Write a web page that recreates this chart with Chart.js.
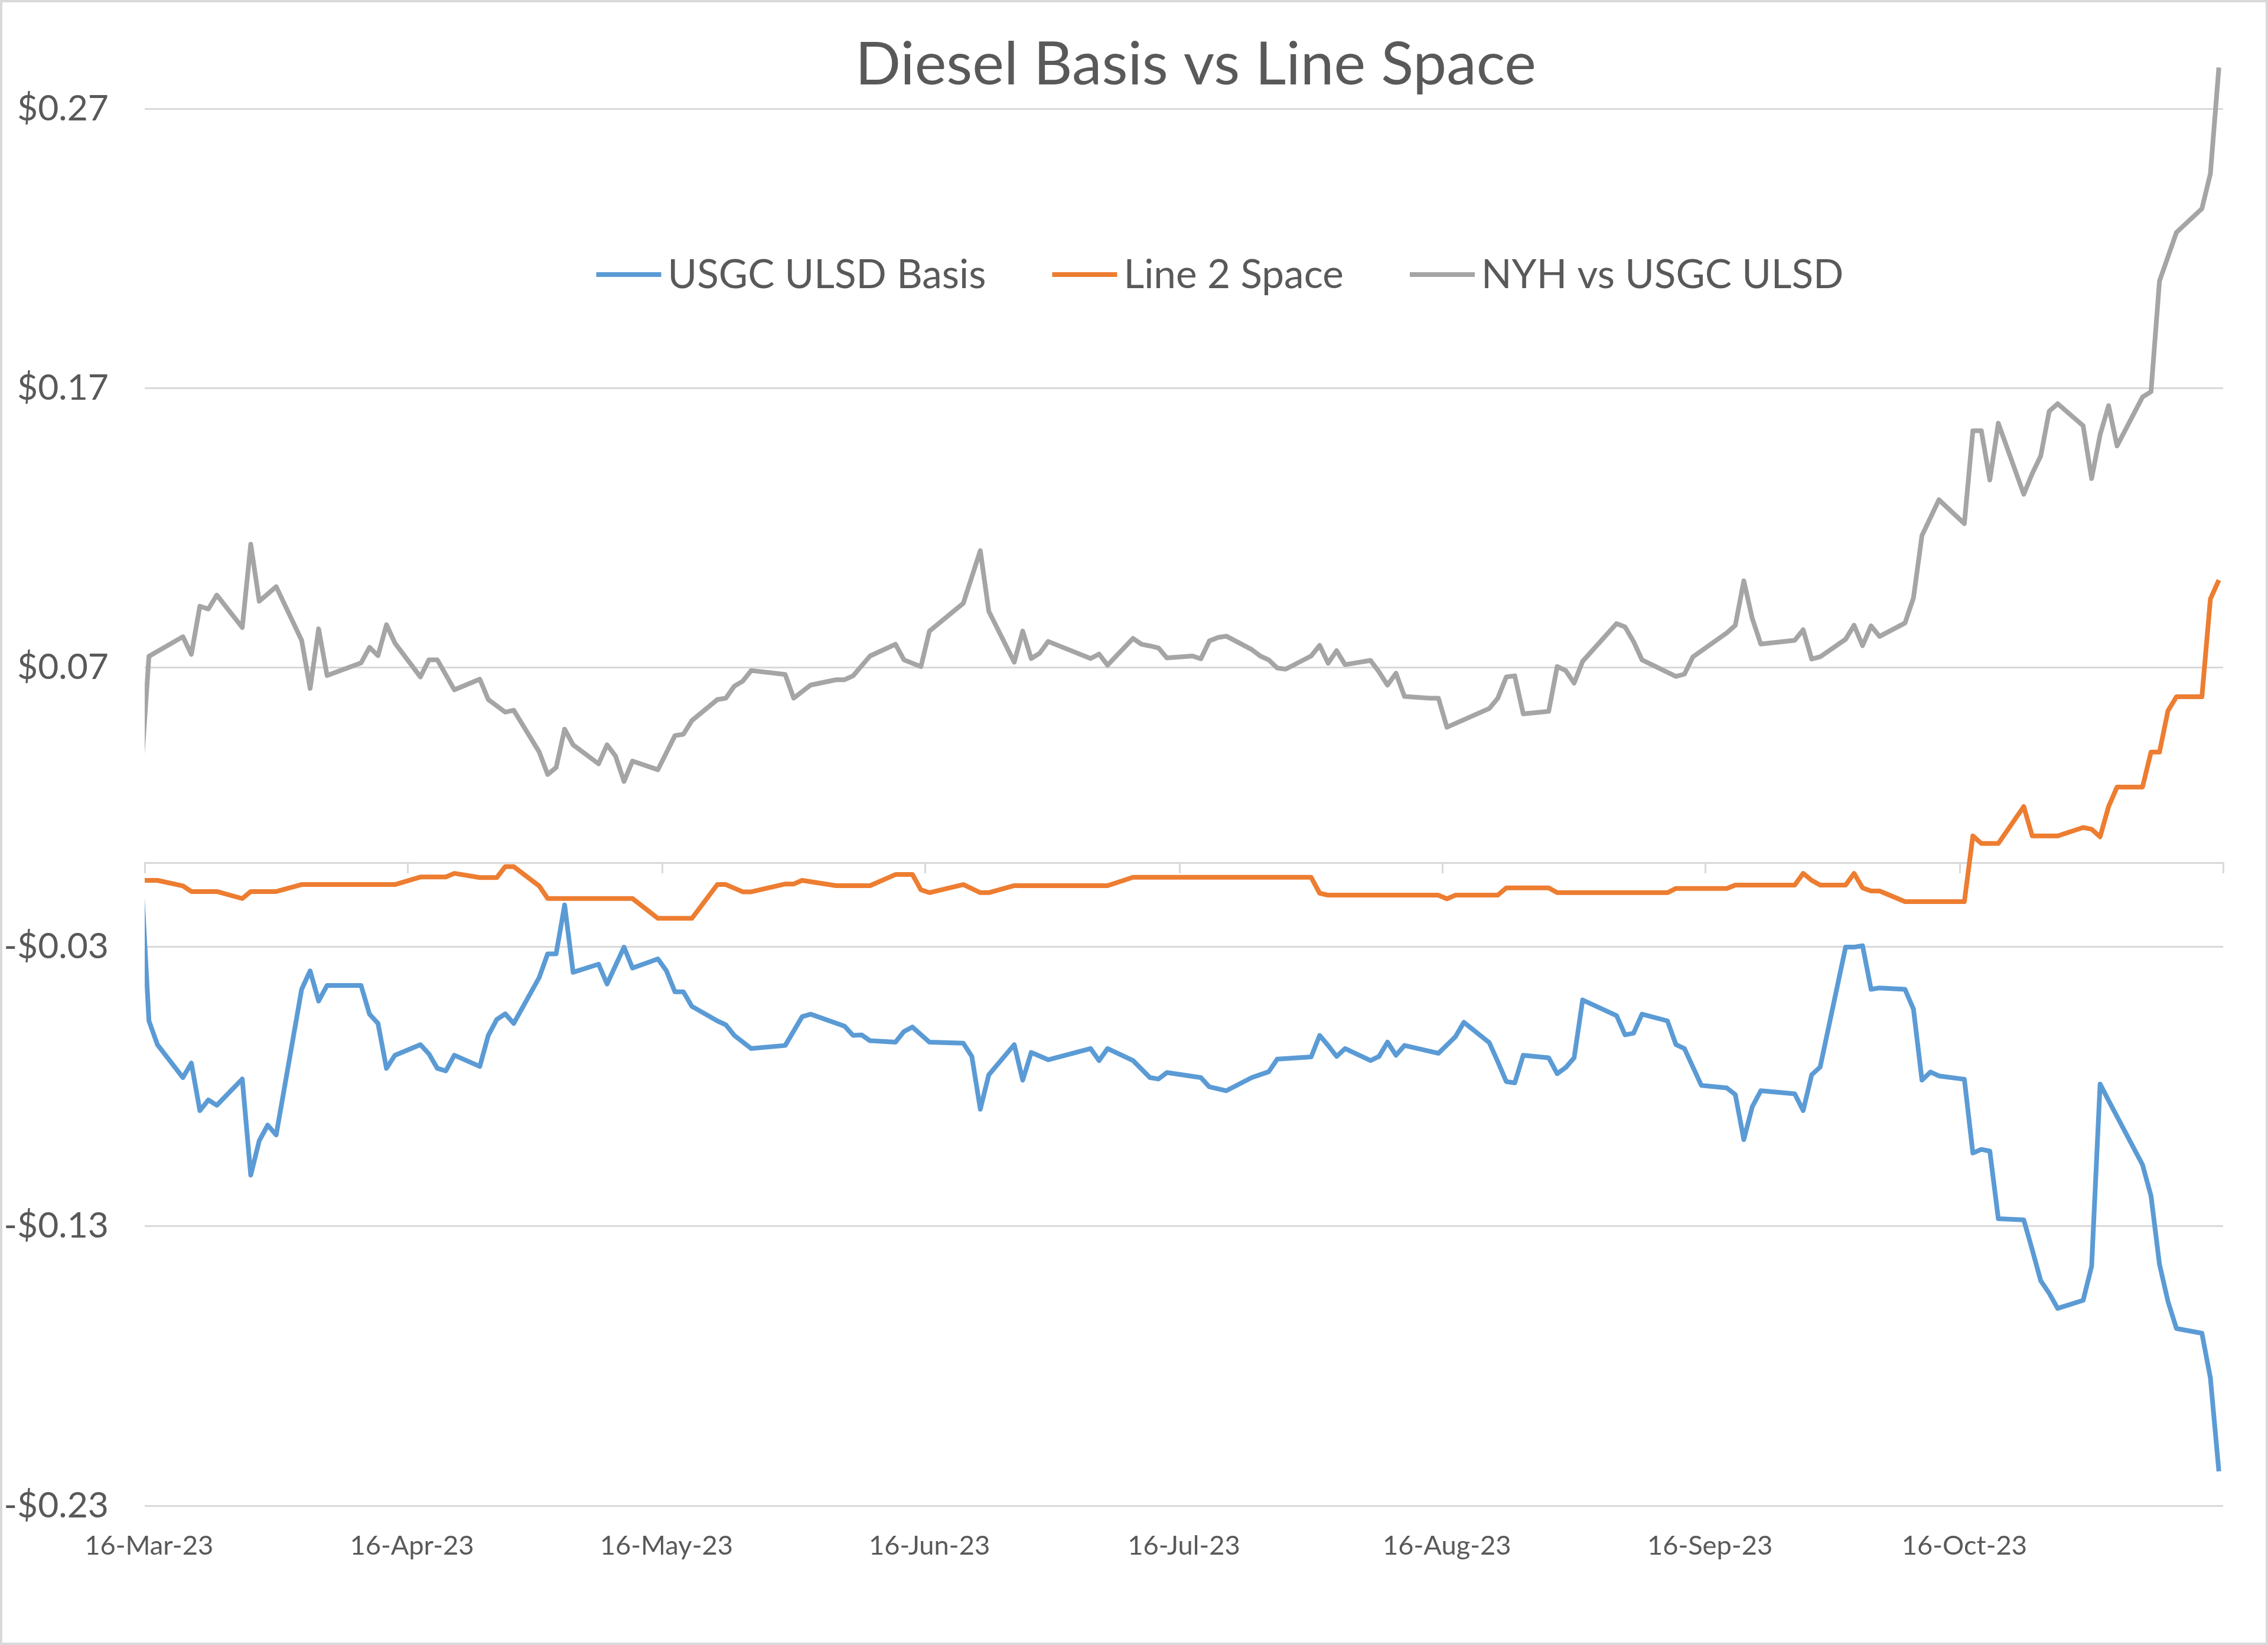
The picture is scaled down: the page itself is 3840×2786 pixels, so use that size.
<!DOCTYPE html>
<html>
<head>
<meta charset="utf-8">
<script src="https://cdn.jsdelivr.net/npm/chart.js@4.4.0/dist/chart.umd.min.js"></script>
<style>
  html, body { margin: 0; padding: 0; background: #ffffff; }
  #wrap { position: relative; width: 3840px; height: 2786px; }
  #frame { position: absolute; left: 0; top: 0; right: 0; bottom: 0; border: 4px solid #d9d9d9; pointer-events: none; }
  canvas { display: block; }
</style>
</head>
<body>
<div id="wrap">
  <canvas id="chart" width="3840" height="2786"></canvas>
  <div id="frame"></div>
</div>
<script>
// ---------------- data ----------------
const titleText = 'Diesel Basis vs Line Space';
const seriesNames = ['USGC ULSD Basis', 'Line 2 Space', 'NYH vs USGC ULSD'];
const seriesColors = ['#5B9BD5', '#ED7D31', '#A5A5A5'];

const yTicks = [-0.23, -0.13, -0.03, 0.07, 0.17, 0.27];
const xTickDates = ['3/16', '4/16', '5/16', '6/16', '7/16', '8/16', '9/16', '10/16'];
const xTickLabels = ['16-Mar-23', '16-Apr-23', '16-May-23', '16-Jun-23', '16-Jul-23', '16-Aug-23', '16-Sep-23', '16-Oct-23'];
const axisStart = '3/16';
const axisEnd = '11/16';

// USGC ULSD Basis (2023)
const basisDates = ['3/15','3/16','3/17','3/20','3/21','3/22','3/23','3/24','3/27','3/28','3/29','3/30','3/31',
  '4/3','4/4','4/5','4/6','4/10','4/11','4/12','4/13','4/14','4/17','4/18','4/19','4/20','4/21','4/24','4/25','4/26','4/27','4/28',
  '5/1','5/2','5/3','5/4','5/5','5/8','5/9','5/11','5/12','5/15','5/16','5/17','5/18','5/19','5/22','5/23','5/24','5/26','5/30',
  '6/1','6/2','6/6','6/7','6/8','6/9','6/12','6/13','6/14','6/16','6/20','6/21','6/22','6/23','6/26','6/27','6/28','6/30',
  '7/5','7/6','7/7','7/10','7/12','7/13','7/14','7/18','7/19','7/21','7/24','7/26','7/27','7/31',
  '8/1','8/2','8/3','8/4','8/7','8/8','8/9','8/10','8/11','8/15','8/17','8/18','8/21','8/22','8/23','8/24','8/25','8/28','8/29','8/30','8/31',
  '9/1','9/5','9/6','9/7','9/8','9/11','9/12','9/13','9/14','9/15','9/18','9/19','9/20','9/21','9/22','9/26','9/27','9/28','9/29',
  '10/2','10/3','10/4','10/5','10/6','10/9','10/10','10/11','10/12','10/13','10/16','10/17','10/18','10/19','10/20','10/23','10/24','10/25','10/26','10/27','10/30','10/31',
  '11/1','11/2','11/6','11/7','11/8','11/9','11/10','11/13','11/14','11/15'];
const basisValues = [0.000,-0.0565,-0.065,-0.0768,-0.0716,-0.0886,-0.0848,-0.0867,-0.0773,-0.1117,-0.0994,-0.0938,-0.0973,
  -0.0452,-0.0386,-0.0494,-0.0438,-0.0438,-0.0541,-0.0574,-0.0735,-0.0688,-0.065,-0.0683,-0.0735,-0.0744,-0.0688,-0.0728,-0.0617,-0.056,-0.054,-0.0574,
  -0.041,-0.0325,-0.0325,-0.015,-0.0391,-0.0362,-0.0433,-0.0301,-0.0376,-0.0343,-0.0386,-0.0461,-0.0461,-0.0513,-0.0565,-0.0579,-0.0617,-0.0664,-0.0653,
  -0.055,-0.0541,-0.0584,-0.0617,-0.0615,-0.0636,-0.0641,-0.0603,-0.0587,-0.0641,-0.0645,-0.0692,-0.0881,-0.0758,-0.065,-0.0777,-0.0678,-0.0704,
  -0.0664,-0.0707,-0.0664,-0.0707,-0.0768,-0.0773,-0.075,-0.0768,-0.0801,-0.0815,-0.0768,-0.0747,-0.0702,-0.0694,
  -0.0617,-0.0653,-0.0692,-0.0664,-0.0707,-0.0692,-0.0641,-0.0688,-0.0653,-0.0681,-0.0622,-0.057,-0.0643,-0.0711,-0.0782,-0.0787,-0.0688,-0.0697,-0.0754,-0.0732,-0.0697,
  -0.049,-0.0546,-0.0615,-0.0609,-0.0541,-0.0565,-0.065,-0.0664,-0.073,-0.0796,-0.0805,-0.0829,-0.099,-0.0872,-0.0815,-0.0826,-0.0886,-0.0758,-0.073,
  -0.0301,-0.0301,-0.0296,-0.0452,-0.0447,-0.0452,-0.0523,-0.0777,-0.0748,-0.0762,-0.0774,-0.1038,-0.1025,-0.1031,-0.1273,-0.1277,-0.1384,-0.1495,-0.154,-0.1594,-0.1565,-0.1443,
  -0.0791,-0.085,-0.108,-0.1191,-0.1436,-0.1569,-0.1666,-0.1683,-0.1843,-0.2177];

// Line 2 Space
const spaceDates = ['3/15','3/16','3/17','3/20','3/21','3/24','3/27','3/28','3/31',
  '4/3','4/14','4/17','4/20','4/21','4/24','4/26','4/27','4/28',
  '5/1','5/2','5/12','5/15','5/19','5/22','5/23','5/25','5/26','5/30','5/31',
  '6/1','6/5','6/9','6/12','6/14','6/15','6/16','6/20','6/22','6/23','6/26',
  '7/7','7/10','7/31','8/1','8/2','8/15','8/16','8/17','8/22','8/23','8/28','8/29',
  '9/11','9/12','9/18','9/19','9/26','9/27','9/28','9/29',
  '10/2','10/3','10/4','10/5','10/6','10/9','10/16','10/17','10/18','10/20','10/23','10/24','10/27','10/30','10/31',
  '11/1','11/2','11/3','11/6','11/7','11/8','11/9','11/10','11/13','11/14','11/15'];
const spaceValues = [-0.0062,-0.0062,-0.0062,-0.0082,-0.0102,-0.0102,-0.0127,-0.0102,-0.0102,
  -0.0077,-0.0077,-0.005,-0.005,-0.0037,-0.0052,-0.0052,-0.0013,-0.0013,
  -0.0082,-0.0127,-0.0127,-0.0198,-0.0198,-0.0077,-0.0077,-0.0103,-0.0103,-0.0075,-0.0075,
  -0.0062,-0.0081,-0.0081,-0.0041,-0.0041,-0.0096,-0.0106,-0.0077,-0.0106,-0.0106,-0.0081,
  -0.0081,-0.0051,-0.0051,-0.0108,-0.0115,-0.0115,-0.0128,-0.0115,-0.0115,-0.0089,-0.0089,-0.0106,
  -0.0106,-0.0091,-0.0091,-0.0079,-0.0079,-0.0037,-0.0062,-0.0079,
  -0.0079,-0.0037,-0.0089,-0.0100,-0.0100,-0.0138,-0.0138,0.0097,0.007,0.007,0.0202,0.0097,0.0097,0.0127,0.0121,
  0.0094,0.0202,0.0272,0.0272,0.0397,0.0397,0.0545,0.0595,0.0595,0.0945,0.1013];

// NYH vs USGC ULSD
const nyhDates = ['3/15','3/16','3/20','3/21','3/22','3/23','3/24','3/27','3/28','3/29','3/31',
  '4/3','4/4','4/5','4/6','4/10','4/11','4/12','4/13','4/14','4/17','4/18','4/19','4/21','4/24','4/25','4/27','4/28',
  '5/1','5/2','5/3','5/4','5/5','5/8','5/9','5/10','5/11','5/12','5/15','5/16','5/17','5/18','5/19','5/22','5/23','5/24','5/25','5/26','5/30','5/31',
  '6/2','6/5','6/6','6/7','6/9','6/12','6/13','6/15','6/16','6/20','6/22','6/23','6/26','6/27','6/28','6/29','6/30',
  '7/5','7/6','7/7','7/10','7/11','7/12','7/13','7/14','7/17','7/18','7/19','7/20','7/21','7/24','7/25','7/26','7/27','7/28','7/31',
  '8/1','8/2','8/3','8/4','8/7','8/8','8/9','8/10','8/11','8/14','8/15','8/16','8/21','8/22','8/23','8/24','8/25','8/28','8/29','8/30','8/31',
  '9/1','9/5','9/6','9/7','9/8','9/12','9/13','9/14','9/18','9/19','9/20','9/21','9/22','9/26','9/27','9/28','9/29',
  '10/2','10/3','10/4','10/5','10/6','10/9','10/10','10/11','10/13','10/16','10/17','10/18','10/19','10/20','10/23','10/24','10/25','10/26','10/27','10/30','10/31',
  '11/1','11/2','11/3','11/6','11/7','11/8','11/10','11/13','11/14','11/15'];
const nyhValues = [0.029,0.074,0.081,0.0747,0.0919,0.0909,0.0959,0.0843,0.1141,0.0937,0.0989,
  0.0797,0.0625,0.0838,0.0671,0.0716,0.0772,0.0742,0.0853,0.0787,0.0666,0.0727,0.0727,0.062,0.0658,0.0585,0.054,0.0547,
  0.0398,0.0317,0.0342,0.0479,0.0423,0.0355,0.0423,0.0383,0.0292,0.0365,0.0334,0.0395,0.0456,0.0461,0.051,0.0585,0.059,0.0633,0.0651,0.0689,0.0675,0.059,
  0.0637,0.0656,0.0656,0.067,0.0741,0.0783,0.0727,0.0703,0.083,0.093,0.1118,0.0901,0.0719,0.083,0.0732,0.0751,0.0793,
  0.0732,0.0748,0.0708,0.0804,0.0783,0.0777,0.077,0.0734,0.0741,0.0731,0.0795,0.0807,0.0812,0.0764,0.0741,0.0727,0.0698,0.0694,0.0741,
  0.0779,0.0715,0.076,0.071,0.0725,0.0684,0.0637,0.0679,0.0596,0.059,0.059,0.0486,0.0553,0.059,0.0666,0.067,0.0534,0.0543,0.0703,0.0689,0.0644,
  0.0722,0.0857,0.0845,0.0793,0.0727,0.0668,0.0676,0.0738,0.0824,0.0851,0.101,0.0875,0.0784,0.0797,0.0835,0.073,0.0738,
  0.0801,0.0851,0.0778,0.0849,0.0811,0.0859,0.0949,0.1172,0.13,0.1215,0.1547,0.1547,0.1371,0.1574,0.132,0.1394,0.1457,0.1617,0.1644,0.1565,0.1376,
  0.1533,0.1637,0.1493,0.1668,0.1687,0.2083,0.2257,0.2342,0.2467,0.2847];

// ---------------- helpers ----------------
const BASE = Date.UTC(2023, 2, 16);
function dayOf(md) {
  const p = md.split('/').map(Number);
  return (Date.UTC(2023, p[0] - 1, p[1]) - BASE) / 86400000;
}
// Excel date axis: each date sits in the middle of its one-day slot
function slot(md) { return dayOf(md) + 0.5; }
function toPoints(dates, values) { return dates.map((d, i) => ({ x: slot(d), y: values[i] })); }

const FAMILY = 'Lato, "Open Sans", "DejaVu Sans", sans-serif';
const TEXT = '#595959';
const GRID = '#d9d9d9';
const mctx = document.createElement('canvas').getContext('2d');
function fitSize(text, weight, target) {
  mctx.font = weight + ' 100px ' + FAMILY;
  return 100 * target / mctx.measureText(text).width;
}
const titleSize = fitSize(titleText, 400, 1153);
const legendSize = fitSize(seriesNames[0], 400, 539);
const ySize = fitSize('$0.27', 400, 155);
const xSize = fitSize(xTickLabels[0], 400, 218);

// title + in-plot legend (Excel style overlay)
const overlayPlugin = {
  id: 'excelOverlay',
  afterDraw(chart) {
    const ctx = chart.ctx, a = chart.chartArea;
    const cx = (a.left + a.right) / 2;
    ctx.save();
    ctx.fillStyle = TEXT;
    ctx.textBaseline = 'alphabetic';
    ctx.textAlign = 'center';
    ctx.font = '400 ' + titleSize + 'px ' + FAMILY;
    ctx.fillText(titleText, cx + 20, 143);

    ctx.font = '400 ' + legendSize + 'px ' + FAMILY;
    const lineLen = 110, afterLine = 11, between = 112;
    const items = chart.data.datasets.map(ds => ({ label: ds.label, color: ds.borderColor, w: ctx.measureText(ds.label).width }));
    const total = items.reduce((s, it) => s + lineLen + afterLine + it.w, 0) + between * (items.length - 1);
    let x = cx + 61 - total / 2;
    const yLine = 465, yBase = 488;
    ctx.textAlign = 'left';
    items.forEach(it => {
      ctx.strokeStyle = it.color;
      ctx.lineWidth = 8;
      ctx.lineCap = 'butt';
      ctx.beginPath();
      ctx.moveTo(x, yLine);
      ctx.lineTo(x + lineLen, yLine);
      ctx.stroke();
      x += lineLen + afterLine;
      ctx.fillStyle = TEXT;
      ctx.fillText(it.label, x, yBase);
      x += it.w + between;
    });
    ctx.restore();
  }
};

const lineStyle = { pointRadius: 0, borderWidth: 8, tension: 0, borderJoinStyle: 'round', borderCapStyle: 'butt',
  clip: { left: 0, top: false, right: 0, bottom: 0 } };

new Chart(document.getElementById('chart'), {
  type: 'line',
  data: {
    datasets: [
      Object.assign({ label: seriesNames[0], data: toPoints(basisDates, basisValues), borderColor: seriesColors[0], backgroundColor: seriesColors[0], order: 3 }, lineStyle),
      Object.assign({ label: seriesNames[1], data: toPoints(spaceDates, spaceValues), borderColor: seriesColors[1], backgroundColor: seriesColors[1], order: 2 }, lineStyle),
      Object.assign({ label: seriesNames[2], data: toPoints(nyhDates, nyhValues), borderColor: seriesColors[2], backgroundColor: seriesColors[2], order: 1 }, lineStyle)
    ]
  },
  options: {
    responsive: false,
    devicePixelRatio: 1,
    animation: false,
    events: [],
    layout: { padding: { top: 184, right: 76, bottom: 0, left: 0 } },
    plugins: { legend: { display: false }, title: { display: false }, tooltip: { enabled: false } },
    scales: {
      x: {
        type: 'linear', position: 'bottom',
        min: dayOf(axisStart), max: dayOf(axisEnd),
        afterBuildTicks: s => { s.ticks = xTickDates.map(d => ({ value: slot(d) })); },
        afterFit: s => { s.height = 236; },
        grid: { display: false }, border: { display: false },
        ticks: {
          autoSkip: false, maxRotation: 0, minRotation: 0, padding: 33, color: TEXT,
          font: { family: FAMILY, size: xSize },
          callback: v => { const i = xTickDates.findIndex(d => Math.abs(slot(d) - v) < 0.01); return i >= 0 ? xTickLabels[i] : ''; }
        }
      },
      x2: {
        type: 'linear', axis: 'x', position: { y: 0 },
        min: dayOf(axisStart), max: dayOf(axisEnd),
        afterBuildTicks: s => { s.ticks = xTickDates.concat([axisEnd]).map(d => ({ value: dayOf(d) })); },
        grid: { drawOnChartArea: false, drawTicks: true, tickLength: 16, color: GRID, lineWidth: 3 },
        border: { display: true, color: GRID, width: 3 },
        ticks: { display: false }
      },
      y: {
        type: 'linear', position: 'left', min: yTicks[0], max: yTicks[yTicks.length - 1],
        afterBuildTicks: s => { s.ticks = yTicks.map(v => ({ value: v })); },
        afterFit: s => { s.width = 245; },
        grid: { color: GRID, lineWidth: 3, drawTicks: false },
        border: { display: false },
        ticks: {
          padding: 61, color: TEXT, font: { family: FAMILY, size: ySize },
          callback: v => (v < 0 ? '-' : '') + '$' + Math.abs(v).toFixed(2)
        }
      }
    }
  },
  plugins: [overlayPlugin]
});
</script>
</body>
</html>
